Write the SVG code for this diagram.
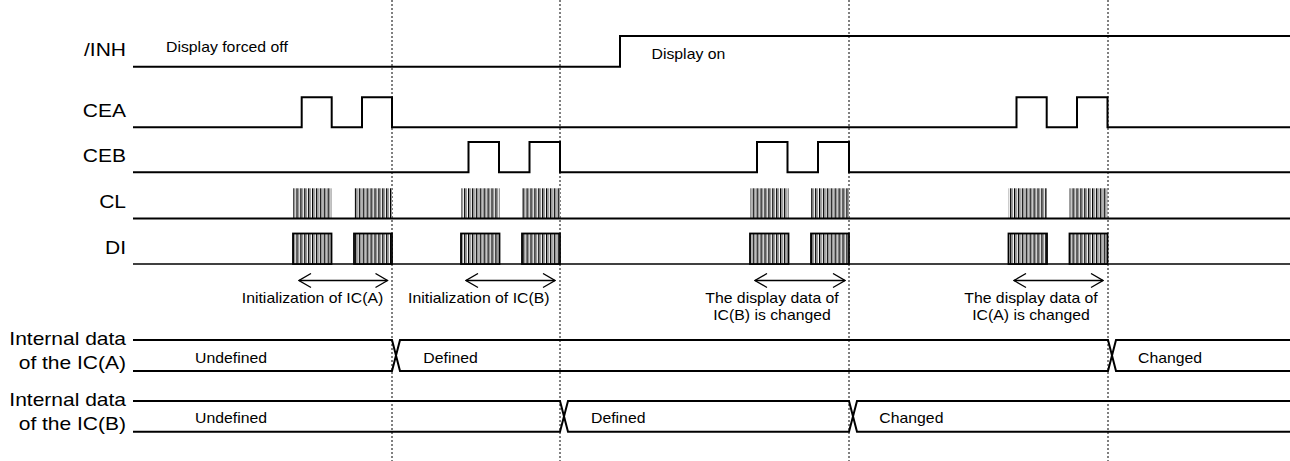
<svg xmlns="http://www.w3.org/2000/svg" width="1290" height="461" viewBox="0 0 1290 461">
<style>
  .sig{fill:none;stroke:#000;stroke-width:2;stroke-linejoin:miter}
  .thin{fill:none;stroke:#000;stroke-width:1.6}
  .grid{stroke:#000;stroke-width:1;stroke-dasharray:2,2}
  .lbl{font-family:"Liberation Sans",Arial,sans-serif;font-size:17.5px;fill:#000}
  .note{font-family:"Liberation Sans",Arial,sans-serif;font-size:14px;fill:#000}
  .arr{stroke:#000;stroke-width:1.3;fill:none;marker-start:url(#ah);marker-end:url(#ah)}
  .burst{fill:url(#stripes)}
  .dibox{fill:url(#stripes);stroke:#000;stroke-width:1.8}
</style>
<defs>
  <pattern id="stripes" patternUnits="userSpaceOnUse" width="3.9" height="10">
    <rect width="3.9" height="10" fill="#fff"/>
    <rect x="0" width="1.4" height="10" fill="#000"/>
    <rect x="1.4" width="1.6" height="10" fill="#9a9a9a"/>
  </pattern>
  <marker id="ah" markerUnits="userSpaceOnUse" markerWidth="14" markerHeight="16" viewBox="-1 -1 14 16" refX="12" refY="7" orient="auto-start-reverse">
    <path d="M0,0 L12,7 L0,14" fill="none" stroke="#000" stroke-width="1.3"/>
  </marker>
</defs>
<rect width="1290" height="461" fill="#fff"/>

<g id="gridlines">
  <line class="grid" x1="392" y1="0" x2="392" y2="461"/>
  <line class="grid" x1="560" y1="0" x2="560" y2="461"/>
  <line class="grid" x1="849" y1="0" x2="849" y2="461"/>
  <line class="grid" x1="1108" y1="0" x2="1108" y2="461"/>
</g>

<g id="inh">
  <text class="lbl" text-anchor="end" transform="translate(126,56) scale(1.2,1)">/INH</text>
  <path class="sig" d="M133,66.7 H620 V36 H1290"/>
  <text class="note" transform="translate(166,52) scale(1.13,1)">Display forced off</text>
  <text class="note" transform="translate(651.5,58.5) scale(1.13,1)">Display on</text>
</g>

<g id="cea">
  <text class="lbl" text-anchor="end" transform="translate(126,116.7) scale(1.2,1)">CEA</text>
  <path class="sig" d="M133,127.3 H301.7 V97.3 H331.7 V127.3 H362 V97.3 H392 V127.3 H1016.5 V97.3 H1046.7 V127.3 H1077 V97.3 H1107.5 V127.3 H1290"/>
</g>

<g id="ceb">
  <text class="lbl" text-anchor="end" transform="translate(126,161.5) scale(1.2,1)">CEB</text>
  <path class="sig" d="M133,172.3 H468.5 V142 H499 V172.3 H529.5 V142 H560 V172.3 H757 V142 H787.5 V172.3 H818 V142 H849 V172.3 H1290"/>
</g>

<g id="cl">
  <text class="lbl" text-anchor="end" transform="translate(126,208) scale(1.2,1)">CL</text>
  <rect class="burst" x="293" y="188.3" width="38.5" height="30"/>
  <rect class="burst" x="354" y="188.3" width="38" height="30"/>
  <rect class="burst" x="461" y="188.3" width="38.5" height="30"/>
  <rect class="burst" x="522" y="188.3" width="38" height="30"/>
  <rect class="burst" x="750" y="188.3" width="38.5" height="30"/>
  <rect class="burst" x="811" y="188.3" width="38" height="30"/>
  <rect class="burst" x="1008.5" y="188.3" width="38.5" height="30"/>
  <rect class="burst" x="1069.5" y="188.3" width="38" height="30"/>
  <line class="sig" x1="133" y1="218.5" x2="1290" y2="218.5"/>
</g>

<g id="di">
  <text class="lbl" text-anchor="end" transform="translate(126,253.5) scale(1.2,1)">DI</text>
  <line class="thin" x1="133" y1="264" x2="1290" y2="264"/>
  <rect class="dibox" x="293" y="233.5" width="38.5" height="30.5"/>
  <rect class="dibox" x="354" y="233.5" width="38" height="30.5"/>
  <rect class="dibox" x="461" y="233.5" width="38.5" height="30.5"/>
  <rect class="dibox" x="522" y="233.5" width="38" height="30.5"/>
  <rect class="dibox" x="750" y="233.5" width="38.5" height="30.5"/>
  <rect class="dibox" x="811" y="233.5" width="38" height="30.5"/>
  <rect class="dibox" x="1008.5" y="233.5" width="38.5" height="30.5"/>
  <rect class="dibox" x="1069.5" y="233.5" width="38" height="30.5"/>
</g>

<g id="connectors">
  <line class="arr" x1="299" y1="280.5" x2="387.5" y2="280.5"/>
  <line class="arr" x1="466" y1="280.5" x2="555" y2="280.5"/>
  <line class="arr" x1="755" y1="280.5" x2="845" y2="280.5"/>
  <line class="arr" x1="1014" y1="280.5" x2="1103" y2="280.5"/>
</g>

<g id="notes">
  <text class="note" text-anchor="middle" transform="translate(312.5,302.7) scale(1.13,1)">Initialization of IC(A)</text>
  <text class="note" text-anchor="middle" transform="translate(478.8,302.7) scale(1.13,1)">Initialization of IC(B)</text>
  <text class="note" text-anchor="middle" transform="translate(772,302.7) scale(1.13,1)">The display data of</text>
  <text class="note" text-anchor="middle" transform="translate(772,320) scale(1.13,1)">IC(B) is changed</text>
  <text class="note" text-anchor="middle" transform="translate(1031,302.7) scale(1.13,1)">The display data of</text>
  <text class="note" text-anchor="middle" transform="translate(1031,320) scale(1.13,1)">IC(A) is changed</text>
</g>

<g id="busA">
  <text class="lbl" text-anchor="end" transform="translate(126,345) scale(1.2,1)">Internal data</text>
  <text class="lbl" text-anchor="end" transform="translate(126,368.5) scale(1.2,1)">of the IC(A)</text>
  <path class="sig" d="M133,340 H392 L400,371 H1108 L1116,340 H1290"/>
  <path class="sig" d="M133,371 H392 L400,340 H1108 L1116,371 H1290"/>
  <text class="note" transform="translate(195,362.5) scale(1.13,1)">Undefined</text>
  <text class="note" transform="translate(423.3,362.5) scale(1.13,1)">Defined</text>
  <text class="note" transform="translate(1138,362.5) scale(1.13,1)">Changed</text>
</g>

<g id="busB">
  <text class="lbl" text-anchor="end" transform="translate(126,406) scale(1.2,1)">Internal data</text>
  <text class="lbl" text-anchor="end" transform="translate(126,429.5) scale(1.2,1)">of the IC(B)</text>
  <path class="sig" d="M133,401 H560 L568,431.7 H849 L857,401 H1290"/>
  <path class="sig" d="M133,431.7 H560 L568,401 H849 L857,431.7 H1290"/>
  <text class="note" transform="translate(195,423) scale(1.13,1)">Undefined</text>
  <text class="note" transform="translate(591,423) scale(1.13,1)">Defined</text>
  <text class="note" transform="translate(879.3,423) scale(1.13,1)">Changed</text>
</g>
</svg>
